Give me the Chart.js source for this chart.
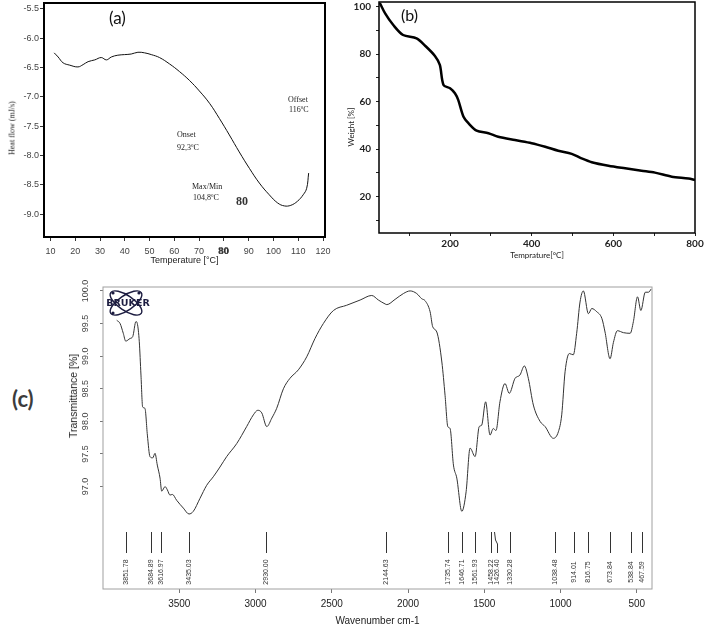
<!DOCTYPE html>
<html>
<head>
<meta charset="utf-8">
<title>DSC, TGA and FTIR</title>
<script src="https://cdn.jsdelivr.net/npm/chart.js@4.4.1/dist/chart.umd.min.js"></script>
<style>
  html, body { margin: 0; padding: 0; background: #fff; }
  body { position: relative; width: 710px; height: 632px; overflow: hidden; font-family: "Liberation Sans", Arial, sans-serif; }
  canvas { position: absolute; }
  .txt { position: absolute; white-space: nowrap; color: #222; }
  .serif { font-family: "Liberation Serif", "DejaVu Serif", serif; font-size: 8px; line-height: 9px; }
  .serif sup { font-size: 5px; vertical-align: 3px; }
  .vert { transform: translate(-50%, -50%) rotate(-90deg); }
  .panel { font-family: Lato, "Open Sans", sans-serif; font-size: 17px; color: #111; }
</style>
</head>
<body>
<canvas id="dsc" width="340" height="270" style="left:0px;top:0px"></canvas>
<canvas id="tga" width="370" height="264" style="left:340px;top:0px"></canvas>
<canvas id="ftir" width="650" height="351" style="left:60px;top:280px"></canvas>

<!-- panel letters and notes -->
<div class="txt panel" style="left:109px;top:7px">(a)</div>
<div class="txt panel" style="left:401px;top:5px;font-size:16px">(b)</div>
<div class="txt panel" style="left:12px;top:385px;font-size:22px;font-weight:bold;color:#3c3c3c">(c)</div>

<div class="txt serif vert" style="left:12px;top:128px">Heat flow (mJ/s)</div>
<div class="txt vert" style="left:351px;top:127px;font-family:Lato,sans-serif;font-size:8px">Weight [%]</div>
<div class="txt vert" style="left:73px;top:396px;font-size:10.5px">Transmittance [%]</div>

<div class="txt serif" style="left:288px;top:95px">Offset</div>
<div class="txt serif" style="left:289px;top:103px">116<sup>0</sup>C</div>
<div class="txt serif" style="left:177px;top:130px">Onset</div>
<div class="txt serif" style="left:177px;top:141px">92,3<sup>0</sup>C</div>
<div class="txt serif" style="left:192px;top:182px">Max/Min</div>
<div class="txt serif" style="left:193px;top:191px">104,8<sup>0</sup>C</div>
<div class="txt serif" style="left:236px;top:197px;font-size:12px;font-weight:bold;color:#333">80</div>
<div class="txt serif" style="left:218px;top:246px;font-size:11px;font-weight:bold;color:#333">80</div>

<script>
// (a) DSC curve
const dscTemp = [11.5, 13.1, 15.1, 17.8, 21.1, 23.2, 25.2, 27.9, 30.5, 32.6, 34.6, 37.2, 39.9, 42.6, 45.3, 48.0,
  50.7, 54.0, 58.1, 62.1, 66.1, 70.1, 74.2, 78.2, 82.2, 86.2, 90.3, 94.3, 98.3, 101.7, 104.4, 107.0, 109.7,
  112.0, 113.4, 114.2];
const dscHeatFlow = [-6.25, -6.32, -6.42, -6.46, -6.49, -6.45, -6.40, -6.37, -6.33, -6.37, -6.32, -6.29, -6.28,
  -6.27, -6.24, -6.25, -6.28, -6.33, -6.44, -6.57, -6.72, -6.90, -7.11, -7.37, -7.65, -7.94, -8.22, -8.47,
  -8.67, -8.81, -8.86, -8.85, -8.78, -8.67, -8.56, -8.30];
const dscTicksX = [10, 20, 30, 40, 50, 60, 70, 80, 90, 100, 110, 120];
const dscTicksY = [-5.5, -6.0, -6.5, -7.0, -7.5, -8.0, -8.5, -9.0];

// (b) TGA curve
const tgaTemp = [28, 41, 61, 85, 118, 139, 163, 175, 184, 200, 212, 220, 233, 245, 265, 294, 318, 359, 400,
  433, 465, 498, 522, 547, 588, 629, 669, 702, 743, 784, 800];
const tgaWeight = [101.5, 97.1, 92.2, 88.0, 86.6, 83.5, 79.2, 75.4, 67.0, 65.6, 63.5, 60.7, 53.6, 50.9, 47.8,
  46.7, 45.2, 43.8, 42.5, 41.0, 39.3, 38.0, 36.1, 34.5, 33.0, 31.9, 30.9, 30.1, 28.4, 27.6, 27.0];
const tgaTicksX = [100, 200, 300, 400, 500, 600, 700, 800];
const tgaLabelsX = [200, 400, 600, 800];
const tgaTicksY = [10, 20, 30, 40, 50, 60, 70, 80, 90, 100];
const tgaLabelsY = [20, 40, 60, 80, 100];

// (c) FTIR spectrum
const irWavenumber = [3910, 3888, 3867, 3851, 3823, 3805, 3784, 3775, 3762, 3751, 3740, 3725, 3709, 3692, 3674,
  3659, 3644, 3626, 3615, 3593, 3578, 3561, 3545, 3517, 3473, 3436, 3408, 3364, 3320, 3277, 3233, 3189, 3123,
  3058, 3014, 2985, 2959, 2926, 2893, 2861, 2817, 2774, 2719, 2664, 2610, 2555, 2489, 2402, 2314, 2238, 2194,
  2150, 2139, 2085, 2030, 1986, 1943, 1910, 1888, 1855, 1838, 1811, 1778, 1757, 1739, 1724, 1702, 1680, 1647,
  1619, 1593, 1560, 1533, 1517, 1491, 1462, 1441, 1423, 1397, 1364, 1336, 1298, 1266, 1237, 1211, 1178, 1134,
  1101, 1047, 1014, 992, 970, 942, 916, 894, 872, 850, 817, 795, 762, 729, 708, 675, 653, 627, 587, 543, 522,
  495, 473, 444, 423, 405];
const irTransmittance = [99.55, 99.50, 99.35, 99.23, 99.27, 99.30, 99.53, 99.50, 99.22, 98.71, 98.22, 98.20,
  97.79, 97.46, 97.44, 97.51, 97.33, 97.13, 96.93, 97.00, 96.95, 96.87, 96.88, 96.79, 96.67, 96.58, 96.62,
  96.82, 97.02, 97.15, 97.30, 97.46, 97.66, 97.92, 98.10, 98.17, 98.13, 97.92, 98.05, 98.20, 98.50, 98.66,
  98.79, 98.99, 99.27, 99.50, 99.70, 99.78, 99.86, 99.93, 99.86, 99.80, 99.79, 99.87, 99.96, 100.0, 99.96,
  99.88, 99.85, 99.68, 99.45, 99.37, 98.91, 98.40, 97.92, 97.89, 97.33, 97.13, 96.62, 96.92, 97.59, 97.46,
  97.92, 97.94, 98.30, 97.79, 97.89, 97.86, 98.30, 98.58, 98.43, 98.66, 98.71, 98.85, 98.66, 98.25, 98.00,
  97.92, 97.74, 97.84, 98.10, 98.76, 99.04, 99.02, 99.35, 99.83, 100.0, 99.65, 99.73, 99.68, 99.58, 99.37,
  98.96, 99.21, 99.39, 99.36, 99.35, 99.53, 99.91, 99.70, 99.98, 99.98, 100.03];
const irPeaks = [3851.78, 3684.89, 3616.97, 3435.03, 2930.00, 2144.63, 1735.74, 1646.71, 1561.93, 1458.22,
  1426.40, 1330.28, 1038.48, 914.01, 816.75, 673.84, 538.84, 467.59];
const irTicksX = [3500, 3000, 2500, 2000, 1500, 1000, 500];
const irTicksY = [97.0, 97.5, 98.0, 98.5, 99.0, 99.5, 100.0];

const toPoints = (xs, ys) => xs.map((v, i) => ({ x: v, y: ys[i] }));
const setTicks = list => scale => { scale.ticks = list.map(v => ({ value: v })); };
// fix the axis box so the plot area lands where the reference has it
const fixBox = (w, h) => scale => {
  if (w !== null) scale.width = w;
  if (h !== null) scale.height = h;
  scale.paddingTop = scale.paddingBottom = scale.paddingLeft = scale.paddingRight = 0;
};

const framePlugin = {
  id: 'frame',
  afterDraw(chart, args, opts) {
    const { ctx, chartArea: a } = chart;
    ctx.save();
    ctx.strokeStyle = opts.color;
    ctx.lineWidth = opts.width;
    ctx.strokeRect(a.left, a.top, a.right - a.left, a.bottom - a.top);
    ctx.restore();
  }
};

const peakPlugin = {
  id: 'peaks',
  afterDatasetsDraw(chart, args, opts) {
    const { ctx, chartArea: a, scales: { x } } = chart;
    ctx.save();
    ctx.strokeStyle = '#333';
    ctx.fillStyle = '#333';
    ctx.lineWidth = 1;
    ctx.font = '7px "Liberation Sans", Arial, sans-serif';
    ctx.textAlign = 'center';
    ctx.textBaseline = 'middle';
    opts.values.forEach(w => {
      let px = Math.round(x.getPixelForValue(w)) + 0.5;
      ctx.beginPath();
      if (w === opts.bent) {
        // leader line bends right so its label clears the neighbour
        ctx.moveTo(px - 1, a.bottom - 57);
        ctx.lineTo(px, a.bottom - 49);
        ctx.lineTo(px + 2, a.bottom - 45);
        ctx.lineTo(px + 2, a.bottom - 36);
        px += 2;
      } else {
        ctx.moveTo(px, a.bottom - 57);
        ctx.lineTo(px, a.bottom - 36);
      }
      ctx.stroke();
      ctx.save();
      ctx.translate(px, a.bottom - 17);
      ctx.rotate(-Math.PI / 2);
      ctx.fillText(w.toFixed(2), 0, 0);
      ctx.restore();
    });
    ctx.restore();
  }
};

const logoPlugin = {
  id: 'bruker',
  afterDatasetsDraw(chart) {
    const { ctx, chartArea: a } = chart;
    const cx = a.left + 23, cy = a.top + 16;
    ctx.save();
    ctx.strokeStyle = '#1c1c40';
    ctx.fillStyle = '#1c1c40';
    ctx.lineWidth = 1.4;
    [0.6, -0.6].forEach(r => {
      ctx.beginPath();
      ctx.ellipse(cx, cy, 18.5, 7.5, r, 0, Math.PI * 2);
      ctx.stroke();
    });
    [[-13, -10], [13, -10], [-13, 10]].forEach(d => {
      ctx.beginPath();
      ctx.arc(cx + d[0], cy + d[1], 1.6, 0, Math.PI * 2);
      ctx.fill();
    });
    ctx.font = 'bold 9.5px "DejaVu Sans", sans-serif';
    ctx.textAlign = 'center';
    ctx.textBaseline = 'middle';
    ctx.fillText('BRUKER', cx + 2, cy + 1);
    ctx.restore();
  }
};

const quiet = { legend: { display: false }, tooltip: { enabled: false } };

// (a)
new Chart(document.getElementById('dsc'), {
  type: 'line',
  data: { datasets: [{ data: toPoints(dscTemp, dscHeatFlow), borderColor: '#111', borderWidth: 1,
    pointRadius: 0, tension: 0.4, fill: false }] },
  options: {
    responsive: false, animation: false,
    layout: { padding: { top: 3, right: 15, left: 0, bottom: 0 } },
    plugins: { ...quiet, frame: { color: '#000', width: 2 } },
    scales: {
      x: {
        type: 'linear', min: 7.4, max: 120.8,
        afterBuildTicks: setTicks(dscTicksX), afterFit: fixBox(null, 33),
        grid: { drawOnChartArea: false, tickLength: 4, color: '#333' }, border: { display: false },
        ticks: { color: '#444', font: { size: 9 }, padding: 5, autoSkip: false, maxRotation: 0 },
        title: { display: true, text: 'Temperature [°C]', color: '#222', font: { size: 9 }, padding: { top: 0, bottom: 4 } }
      },
      y: {
        min: -9.39, max: -5.40,
        afterBuildTicks: setTicks(dscTicksY), afterFit: fixBox(44, null),
        grid: { drawOnChartArea: false, tickLength: 4, color: '#333' }, border: { display: false },
        ticks: { color: '#444', font: { size: 9 }, padding: 1, autoSkip: false, callback: v => v.toFixed(1) }
      }
    }
  },
  plugins: [framePlugin]
});

// (b)
new Chart(document.getElementById('tga'), {
  type: 'line',
  data: { datasets: [{ data: toPoints(tgaTemp, tgaWeight), borderColor: '#000', borderWidth: 2.5,
    pointRadius: 0, tension: 0.3, fill: false }] },
  options: {
    responsive: false, animation: false,
    layout: { padding: { top: 2, right: 15, left: 0, bottom: 0 } },
    plugins: { ...quiet, frame: { color: '#000', width: 1.5 } },
    scales: {
      x: {
        type: 'linear', min: 26, max: 800,
        afterBuildTicks: setTicks(tgaTicksX), afterFit: fixBox(null, 31),
        grid: { drawOnChartArea: false, tickLength: 3, color: '#222' }, border: { display: false },
        ticks: { color: '#222', font: { size: 10, weight: 'bold', family: 'Lato' }, padding: 2, autoSkip: false,
          maxRotation: 0, callback: v => tgaLabelsX.includes(v) ? String(v) : '' },
        title: { display: true, text: 'Temprature[°C]', color: '#222', font: { size: 8, family: 'Lato' }, padding: { top: 0, bottom: 4 } }
      },
      y: {
        min: 4.7, max: 101.9,
        afterBuildTicks: setTicks(tgaTicksY), afterFit: fixBox(39, null),
        grid: { drawOnChartArea: false, tickLength: 3, color: '#222' }, border: { display: false },
        ticks: { color: '#222', font: { size: 10, weight: 'bold', family: 'Lato' }, padding: 5, autoSkip: false,
          callback: v => tgaLabelsY.includes(v) ? String(v) : '' }
      }
    }
  },
  plugins: [framePlugin]
});

// (c)
new Chart(document.getElementById('ftir'), {
  type: 'line',
  data: { datasets: [{ data: toPoints(irWavenumber, irTransmittance), borderColor: '#333', borderWidth: 1,
    pointRadius: 0, cubicInterpolationMode: 'monotone', fill: false }] },
  options: {
    responsive: false, animation: false,
    layout: { padding: { top: 7, right: 58, left: 0, bottom: 0 } },
    plugins: { ...quiet, frame: { color: '#a0a0a0', width: 1 }, peaks: { values: irPeaks, bent: 1426.40 } },
    scales: {
      x: {
        type: 'linear', min: 400, max: 4000, reverse: true,
        afterBuildTicks: setTicks(irTicksX), afterFit: fixBox(null, 42),
        grid: { drawOnChartArea: false, tickLength: 4, color: '#777' }, border: { display: false },
        ticks: { color: '#222', font: { size: 10 }, padding: 5, autoSkip: false, maxRotation: 0,
          callback: v => String(v) },
        title: { display: true, text: 'Wavenumber cm-1', color: '#222', font: { size: 10 }, padding: { top: 0, bottom: 4 } }
      },
      y: {
        min: 95.43, max: 100.06,
        afterBuildTicks: setTicks(irTicksY), afterFit: fixBox(43, null),
        grid: { drawOnChartArea: false, tickLength: 3, color: '#777' }, border: { display: false },
        ticks: { color: '#444', font: { size: 9 }, padding: 3, autoSkip: false, minRotation: 90, maxRotation: 90,
          crossAlign: 'center', callback: v => v.toFixed(1) }
      }
    }
  },
  plugins: [framePlugin, peakPlugin, logoPlugin]
});
</script>
</body>
</html>
